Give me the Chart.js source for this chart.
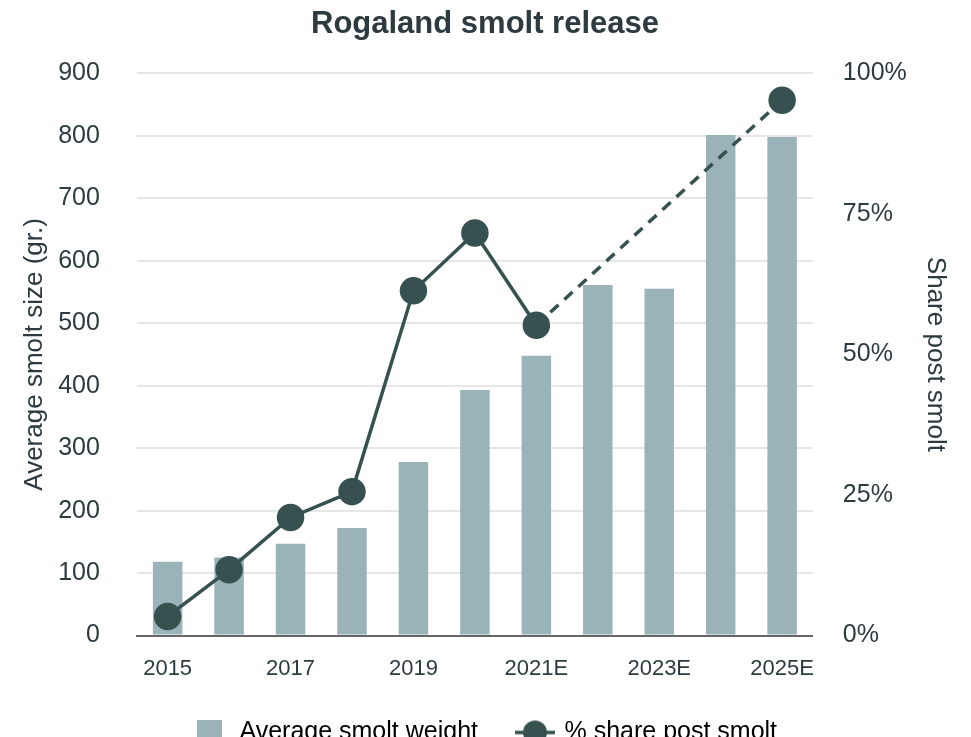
<!DOCTYPE html>
<html>
<head>
<meta charset="utf-8">
<script src="https://cdn.jsdelivr.net/npm/chart.js@4"></script>
<style>
  html, body { margin: 0; padding: 0; background: #fff; overflow: hidden; }
  #wrap { width: 971px; height: 755px; }
</style>
</head>
<body>
<div id="wrap"><canvas id="smoltChart"></canvas></div>
<script>
// Rogaland smolt release data
const years = ['2015', '2016', '2017', '2018', '2019', '2020', '2021E', '2022E', '2023E', '2024E', '2025E'];
const avgWeight = [118, 125, 147, 172, 278, 393, 448, 561, 555, 801, 798];
const shareActual = [3.4, 11.7, 21, 25.6, 61.3, 71.6, 55.2, null, null, null, null];
const shareForecast = [null, null, null, null, null, null, 55.2, null, null, null, 95.2];
const shareTicks = [0, 25, 50, 75, 100];

const barColor = '#9ab3b9';
const lineColor = '#36514f';
const textColor = '#2d3a40';
Chart.defaults.font.family = '"Liberation Sans", Arial, sans-serif';
Chart.defaults.color = textColor;

// legend markers
function squareIcon() {
    const c = document.createElement('canvas');
    c.width = 25; c.height = 25;
    const g = c.getContext('2d');
    g.fillStyle = barColor;
    g.fillRect(0, 0, 25, 25);
    return c;
}
function lineIcon() {
    const c = document.createElement('canvas');
    c.width = 40; c.height = 26;
    const g = c.getContext('2d');
    g.strokeStyle = lineColor;
    g.lineWidth = 3.5;
    g.beginPath(); g.moveTo(0, 13); g.lineTo(40, 13); g.stroke();
    g.fillStyle = lineColor;
    g.beginPath(); g.arc(20, 13, 12, 0, Math.PI * 2); g.fill();
    return c;
}

const ctx = document.getElementById('smoltChart').getContext('2d');
const smoltChart = new Chart(ctx, {
    type: 'bar',
    data: {
        labels: years,
        datasets: [{
            type: 'line',
            label: '% share post smolt',
            data: shareActual,
            yAxisID: 'y1',
            borderColor: lineColor,
            backgroundColor: lineColor,
            borderWidth: 3.5,
            pointRadius: 12,
            pointHoverRadius: 12,
            tension: 0,
            order: 0
        }, {
            type: 'line',
            label: 'forecast',
            data: shareForecast,
            yAxisID: 'y1',
            borderColor: lineColor,
            backgroundColor: lineColor,
            borderWidth: 3.5,
            borderDash: [11, 8],
            spanGaps: true,
            pointRadius: years.map((y, i) => i === years.length - 1 ? 12 : 0),
            tension: 0,
            order: 1
        }, {
            label: 'Average smolt weight',
            data: avgWeight,
            yAxisID: 'y',
            backgroundColor: barColor,
            barPercentage: 0.6,
            categoryPercentage: 0.8,
            order: 2
        }]
    },
    options: {
        responsive: true,
        maintainAspectRatio: false,
        animation: false,
        layout: { padding: { left: 15, right: 16, top: 0, bottom: 0 } },
        plugins: {
            title: {
                display: true,
                text: 'Rogaland smolt release',
                font: { size: 31, weight: 'bold' },
                color: textColor,
                padding: { top: 6, bottom: 30 }
            },
            legend: {
                position: 'bottom',
                labels: {
                    font: { size: 25 },
                    color: textColor,
                    padding: 40,
                    usePointStyle: true,
                    pointStyleWidth: 34,
                    generateLabels: function (chart) {
                        return [
                            { text: 'Average smolt weight', pointStyle: squareIcon(), fillStyle: barColor, strokeStyle: barColor, lineWidth: 0, datasetIndex: 2 },
                            { text: '% share post smolt', pointStyle: lineIcon(), fillStyle: lineColor, strokeStyle: lineColor, lineWidth: 0, datasetIndex: 0 }
                        ];
                    }
                }
            },
            tooltip: { mode: 'index', intersect: false }
        },
        scales: {
            x: {
                grid: { display: false, drawTicks: false },
                border: { color: '#666', width: 2 },
                ticks: {
                    autoSkip: false,
                    maxRotation: 0,
                    font: { size: 22 },
                    color: textColor,
                    padding: 20,
                    callback: function (v, i) { return i % 2 === 0 ? this.getLabelForValue(v) : ''; }
                },
                // tick padding is counted below the labels too; drop most of it
                afterFit: function (axis) { axis.height -= 22; }
            },
            y: {
                position: 'left',
                min: 0,
                max: 900,
                ticks: { stepSize: 100, font: { size: 25 }, color: textColor, padding: 37 },
                grid: { color: '#e6e6e6', lineWidth: 2, drawTicks: false },
                border: { display: false },
                title: { display: true, text: 'Average smolt size (gr.)', font: { size: 26 }, color: textColor, padding: { top: 4, bottom: 8 } },
                afterFit: function (axis) { axis.width -= 37; }
            },
            y1: {
                position: 'right',
                min: 0,
                max: 100,
                afterBuildTicks: function (axis) { axis.ticks = shareTicks.map(v => ({ value: v })); },
                ticks: { font: { size: 25 }, color: textColor, padding: 30, callback: v => v + '%' },
                grid: { drawOnChartArea: false, drawTicks: false },
                border: { display: false },
                title: { display: true, text: 'Share post smolt', font: { size: 26 }, color: textColor, padding: { top: 4, bottom: 0 } },
                afterFit: function (axis) { axis.width -= 17; }
            }
        }
    }
});
</script>
</body>
</html>
